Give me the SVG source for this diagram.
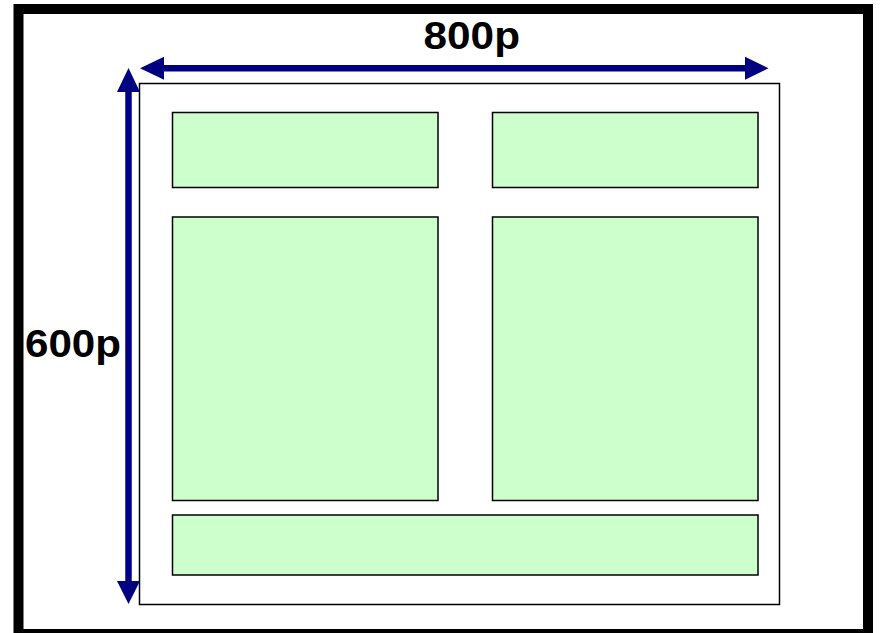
<svg xmlns="http://www.w3.org/2000/svg" width="881" height="633" viewBox="0 0 881 633">
  <style>
    .frame { fill: #ffffff; stroke: #000000; stroke-width: 10; }
    .page { fill: #ffffff; stroke: #000000; stroke-width: 1.5; }
    .pane { fill: #ccffcc; stroke: #000000; stroke-width: 1.5; }
    .dim { stroke: #000080; stroke-width: 6.5; fill: none; }
    .head { fill: #000080; }
    .label { font-family: "Liberation Sans", Arial, sans-serif; font-weight: bold; font-size: 39px; fill: #000000; }
  </style>

  <!-- outer screen frame -->
  <rect id="screen" class="frame" x="18.5" y="9" width="849.5" height="625"/>

  <!-- page area with its panes -->
  <g id="page">
    <rect class="page" x="139.5" y="83.5" width="640" height="521"/>
  </g>
  <g id="pane-top-left"><rect class="pane" x="172.5" y="112.5" width="265.5" height="75"/></g>
  <g id="pane-top-right"><rect class="pane" x="492.5" y="112.5" width="265.5" height="75"/></g>
  <g id="pane-mid-left"><rect class="pane" x="172.5" y="217" width="265.5" height="283.5"/></g>
  <g id="pane-mid-right"><rect class="pane" x="492.5" y="217" width="265.5" height="283.5"/></g>
  <g id="pane-bottom"><rect class="pane" x="172.5" y="515" width="585.5" height="60"/></g>

  <!-- dimension arrows -->
  <g id="connectors">
    <line class="dim" x1="160" y1="68.3" x2="750" y2="68.3"/>
    <polygon class="head" points="140,68.3 164,56.8 164,79.8"/>
    <polygon class="head" points="768.5,68.3 745,56.8 745,79.8"/>

    <line class="dim" x1="128.5" y1="88" x2="128.5" y2="585"/>
    <polygon class="head" points="128.5,68 117,92 140,92"/>
    <polygon class="head" points="128.5,604 117,581 140,581"/>
  </g>

  <text class="label" x="423.5" y="49" textLength="96.5" lengthAdjust="spacingAndGlyphs">800p</text>
  <text class="label" x="25" y="357" textLength="96" lengthAdjust="spacingAndGlyphs">600p</text>
</svg>
